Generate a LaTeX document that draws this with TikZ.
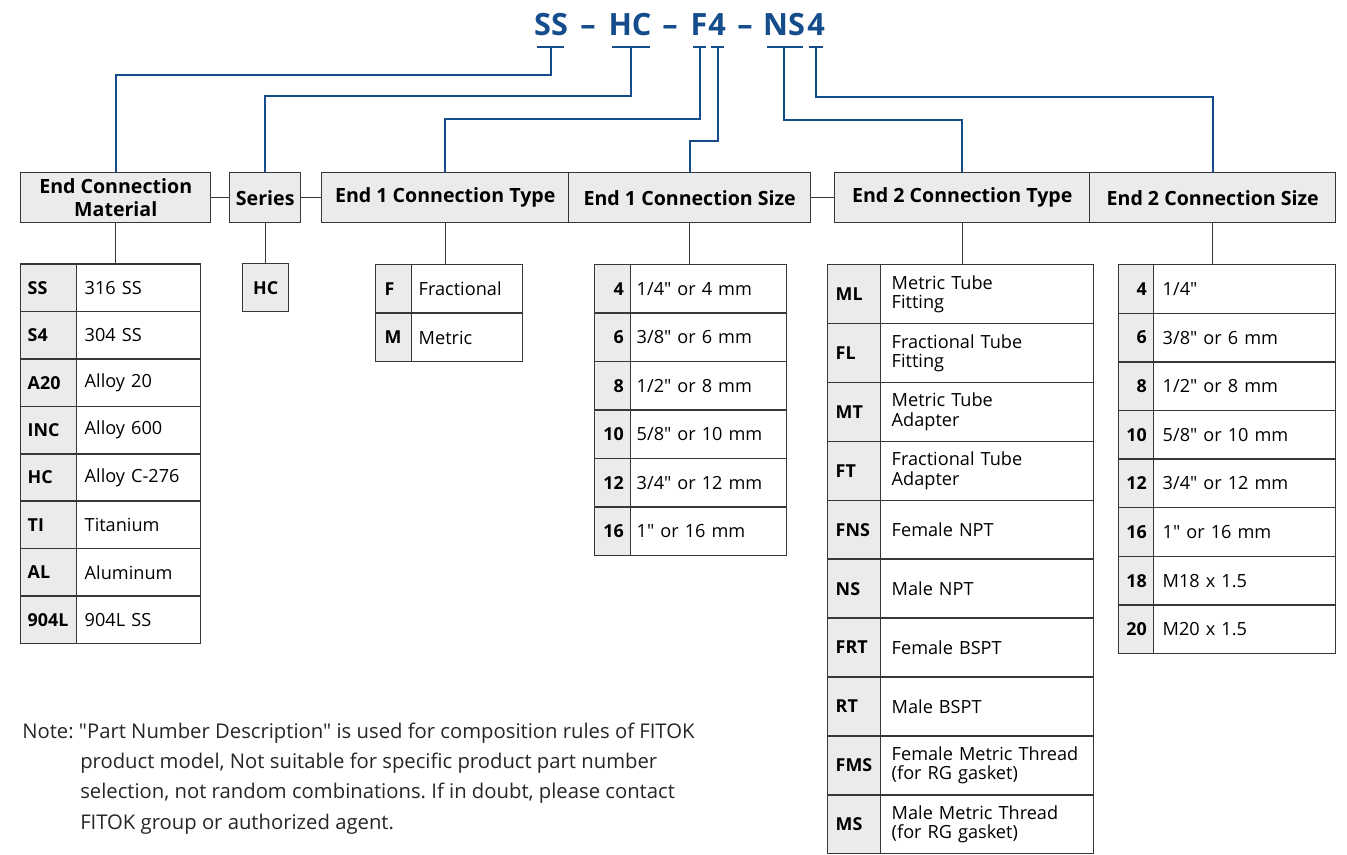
\documentclass[tikz,border=0pt]{standalone}
\usepackage{fontspec}
\setmainfont{Open Sans}[Ligatures=TeXOff]
\frenchspacing
\definecolor{fblue}{RGB}{20,76,140}
\definecolor{fgray}{RGB}{234,235,237}
\definecolor{fline}{RGB}{55,55,55}
\newcommand{\mkcell}[8]{%
 \pgfmathsetmacro\mkw{(#4-2*#6)*0.75}%
 \pgfmathsetmacro\mkh{#5*0.75}%
 \pgfmathsetmacro\mkp{#6*0.75}%
 \node[#7, anchor=north west, text width=\mkw pt, inner xsep=\mkp pt, inner ysep=0pt, minimum height=\mkh pt] (#1) at (#2,#3) {#8};}
\tikzset{
 codecell/.style={draw=fline, fill=fgray, line width=1.1pt, font=\fontsize{13.4}{14.6}\selectfont\bfseries, align=left},
 codecellr/.style={codecell, align=right},
 desccell/.style={draw=fline, fill=white, line width=1.1pt, font=\fontsize{13.6}{14.6}\selectfont, align=left},
 hdr/.style={draw=fline, fill=fgray, line width=1.1pt, inner sep=0pt, font=\fontsize{14.7}{17.5}\selectfont\bfseries, align=center, anchor=north west, minimum height=37.5pt},
 conn/.style={draw=fline, line width=1pt},
 bl/.style={draw=fblue, line width=1.5pt},
 ttl/.style={text=fblue, font=\fontsize{23}{27}\selectfont\bfseries, anchor=base, inner sep=0pt},
 note/.style={font=\fontsize{15.2}{18}\selectfont, anchor=base west, inner sep=0pt, text=black!85}
}
\begin{document}
\begin{tikzpicture}[x=0.75pt,y=-0.75pt]
\fill[white] (0,0) rectangle (1347,855);
\useasboundingbox (0,0) rectangle (1347,855);

% title
\node[ttl] (pSS) at (551,36) {SS};
\node[ttl] (d1) at (588,36) {–};
\node[ttl] (pHC) at (630,36) {HC};
\node[ttl] (d2) at (670,36) {–};
\node[ttl] (pF) at (699,36) {F};
\node[ttl] (p4) at (717,36) {4};
\node[ttl] (d3) at (745,36) {–};
\node[ttl] (pNS) at (784,36) {NS};
\node[ttl] (p4b) at (816,36) {4};

% ticks
\draw[bl] (537,47) -- (564,47);
\draw[bl] (612,47) -- (650,47);
\draw[bl] (693,47) -- (706,47);
\draw[bl] (711,47) -- (724,47);
\draw[bl] (767,47) -- (803,47);
\draw[bl] (809,47) -- (823,47);
\coordinate (k1) at (551,47);
\coordinate (k2) at (631,47);
\coordinate (k3) at (700,47);
\coordinate (k4) at (718,47);
\coordinate (k5) at (784,47);
\coordinate (k6) at (816,47);

% headers
\node[hdr, minimum width=142.5pt] (h1) at (20,172) {End Connection\\Material};
\node[hdr, minimum width=53.25pt] (h2) at (229,172) {Series};
\node[hdr, minimum width=185.25pt] (h3) at (321,172) {End 1 Connection Type};
\node[hdr, minimum width=181.5pt] (h4) at (568,172) {End 1 Connection Size};
\node[hdr, minimum width=191.25pt] (h5) at (834,172) {End 2 Connection Type};
\node[hdr, minimum width=184.5pt] (h6) at (1089,172) {End 2 Connection Size};

\draw[conn] (h1.east) -- (h2.west);
\draw[conn] (h2.east) -- (h3.west);
\draw[conn] (h4.east) -- (h5.west);

% blue connectors
\draw[bl] (k1) -- (k1 |- 0,75) -| (h1.north);
\draw[bl] (k2) -- (k2 |- 0,96) -| (h2.north);
\draw[bl] (k3) -- (k3 |- 0,119) -| (h3.north);
\draw[bl] (k4) -- (k4 |- 0,141) -| (h4.north);
\draw[bl] (k5) -- (k5 |- 0,120) -| (h5.north);
\draw[bl] (k6) -- (k6 |- 0,97) -| (h6.north);

% material table
\foreach \c/\d [count=\i] in {SS/316 SS, S4/304 SS, A20/Alloy 20, INC/Alloy 600, HC/Alloy C-276, TI/Titanium, AL/Aluminum, 904L/904L SS}{
 \pgfmathsetmacro\yy{263.5+(\i-1)*47.4}
 \mkcell{mc\i}{20}{\yy}{56}{47.4}{7}{codecell}{\c}
 \mkcell{md\i}{76}{\yy}{124}{47.4}{8}{desccell}{\d}
}

% series
\node[codecell, align=center, anchor=north west, inner sep=0pt, minimum width=34.5pt, minimum height=36pt] (hc) at (242,263) {HC};

% end 1 type
\foreach \c/\d [count=\i] in {F/Fractional, M/Metric}{
 \pgfmathsetmacro\yy{264+(\i-1)*48.5}
 \mkcell{ac\i}{375}{\yy}{36}{48.5}{9}{codecell}{\c}
 \mkcell{ad\i}{411}{\yy}{111}{48.5}{7}{desccell}{\d}
}

% end 1 size
\foreach \c/\d [count=\i] in {4/{1/4" or 4 mm}, 6/{3/8" or 6 mm}, 8/{1/2" or 8 mm}, 10/{5/8" or 10 mm}, 12/{3/4" or 12 mm}, 16/{1" or 16 mm}}{
 \pgfmathsetmacro\yy{264+(\i-1)*48.5}
 \mkcell{bc\i}{594}{\yy}{36}{48.5}{7}{codecellr}{\c}
 \mkcell{bd\i}{630}{\yy}{156}{48.5}{6}{desccell}{\d}
}

% end 2 type
\foreach \c/\d [count=\i] in {ML/{Metric Tube\\Fitting}, FL/{Fractional Tube\\Fitting}, MT/{Metric Tube\\Adapter}, FT/{Fractional Tube\\Adapter}, FNS/{Female NPT}, NS/{Male NPT}, FRT/{Female BSPT}, RT/{Male BSPT}, FMS/{Female Metric Thread\\(for RG gasket)}, MS/{Male Metric Thread\\(for RG gasket)}}{
 \pgfmathsetmacro\yy{264+(\i-1)*58.9}
 \mkcell{ec\i}{827}{\yy}{53}{58.9}{8}{codecell}{\c}
 \mkcell{ed\i}{880}{\yy}{213}{58.9}{11}{desccell}{\d}
}

% end 2 size
\foreach \c/\d [count=\i] in {4/{1/4"}, 6/{3/8" or 6 mm}, 8/{1/2" or 8 mm}, 10/{5/8" or 10 mm}, 12/{3/4" or 12 mm}, 16/{1" or 16 mm}, 18/{M18 x 1.5}, 20/{M20 x 1.5}}{
 \pgfmathsetmacro\yy{264+(\i-1)*48.6}
 \mkcell{fc\i}{1118}{\yy}{35}{48.6}{7}{codecellr}{\c}
 \mkcell{fd\i}{1153}{\yy}{182}{48.6}{9}{desccell}{\d}
}

% header to table connectors
\draw[conn] (h1.south) -- (h1.south |- md1.north);
\draw[conn] (h2.south) -- (h2.south |- hc.north);
\draw[conn] (h3.south) -- (h3.south |- ad1.north);
\draw[conn] (h4.south) -- (h4.south |- bd1.north);
\draw[conn] (h5.south) -- (h5.south |- ed1.north);
\draw[conn] (h6.south) -- (h6.south |- fd1.north);

% note
\node[note] (n1) at (22,738) {Note: "Part Number Description" is used for composition rules of FITOK};
\node[note] (n2) at (80,768) {product model, Not suitable for specific product part number};
\node[note] (n3) at (80,798) {selection, not random combinations. If in doubt, please contact};
\node[note] (n4) at (80,829) {FITOK group or authorized agent.};
\end{tikzpicture}
\end{document}
